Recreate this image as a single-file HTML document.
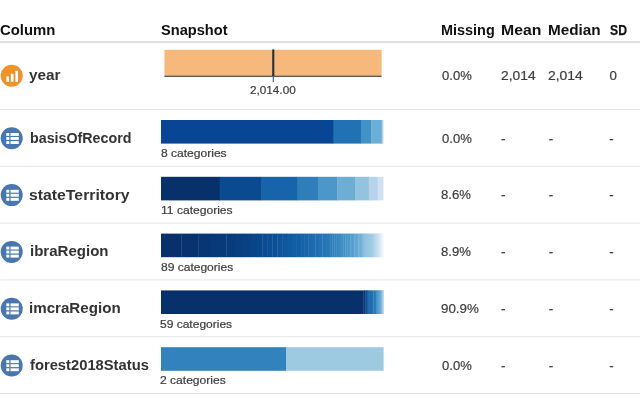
<!DOCTYPE html>
<html><head><meta charset="utf-8"><title>Column summary</title>
<style>
html,body{margin:0;padding:0;background:#fff;}
body{width:640px;height:400px;overflow:hidden;position:relative;font-family:"Liberation Sans",sans-serif;color:#333;}
.t{position:absolute;white-space:nowrap;line-height:1;transform-origin:0 0;}
.h{font-weight:bold;font-size:14.8px;color:#111;}
.n{font-weight:bold;font-size:15.2px;color:#333;}
.s{font-size:13.3px;color:#3c3c3c;-webkit-text-stroke:0.2px #3c3c3c;}
.c{font-size:10.8px;color:#3c3c3c;-webkit-text-stroke:0.2px #3c3c3c;}
.hl{position:absolute;left:0;width:640px;background:#e4e4e4;height:1px;}
svg{position:absolute;left:0;top:0;}
</style></head><body>

<svg width="640" height="400" viewBox="0 0 640 400"><rect x="0" y="41.2" width="640" height="1.6" fill="#d9d9d9"/><rect x="0" y="109.00" width="640" height="1" fill="#e5e5e5"/><rect x="0" y="165.80" width="640" height="1" fill="#e5e5e5"/><rect x="0" y="222.60" width="640" height="1" fill="#e5e5e5"/><rect x="0" y="279.40" width="640" height="1" fill="#e5e5e5"/><rect x="0" y="336.20" width="640" height="1" fill="#e5e5e5"/><rect x="0" y="393.00" width="640" height="1" fill="#e5e5e5"/><rect x="164.4" y="49.8" width="217.2" height="26" fill="#f7b87b"/><rect x="164.4" y="75.7" width="217.2" height="1.1" fill="#333"/><rect x="272.7" y="49" width="1.3" height="33.2" fill="#4f6f96"/><rect x="272.3" y="49.8" width="2" height="26.4" fill="#2b2b2b"/><rect x="161.00" y="120.00" width="172.90" height="23.6" fill="#084594"/><rect x="333.60" y="120.00" width="27.60" height="23.6" fill="#2171b5"/><rect x="360.90" y="120.00" width="10.60" height="23.6" fill="#4292c6"/><rect x="371.20" y="120.00" width="10.80" height="23.6" fill="#6baed6"/><rect x="381.70" y="120.00" width="1.20" height="23.6" fill="#9ecae1"/><rect x="382.60" y="120.00" width="0.90" height="23.6" fill="#c6dbef"/><rect x="383.20" y="120.00" width="0.60" height="23.6" fill="#deebf7"/><rect x="383.50" y="120.00" width="0.10" height="23.6" fill="#f7fbff"/><rect x="161.00" y="176.80" width="59.00" height="23.6" fill="#08306b"/><rect x="219.70" y="176.80" width="41.60" height="23.6" fill="#0a4a90"/><rect x="261.00" y="176.80" width="36.90" height="23.6" fill="#1864aa"/><rect x="297.60" y="176.80" width="20.70" height="23.6" fill="#2f7ebc"/><rect x="318.00" y="176.80" width="19.50" height="23.6" fill="#4b97c9"/><rect x="337.20" y="176.80" width="18.10" height="23.6" fill="#6daed5"/><rect x="355.00" y="176.80" width="14.10" height="23.6" fill="#93c3df"/><rect x="368.80" y="176.80" width="9.20" height="23.6" fill="#b5d4e9"/><rect x="377.70" y="176.80" width="5.60" height="23.6" fill="#cfe1f2"/><rect x="383.00" y="176.80" width="0.70" height="23.6" fill="#e3eef9"/><rect x="383.40" y="176.80" width="0.20" height="23.6" fill="#f7fbff"/><rect x="161.00" y="233.60" width="20.60" height="23.6" fill="#08306b"/><rect x="181.30" y="233.60" width="17.50" height="23.6" fill="#08336f"/><rect x="198.50" y="233.60" width="12.80" height="23.6" fill="#083674"/><rect x="211.00" y="233.60" width="15.60" height="23.6" fill="#083978"/><rect x="226.30" y="233.60" width="8.70" height="23.6" fill="#083c7d"/><rect x="234.70" y="233.60" width="8.60" height="23.6" fill="#083f81"/><rect x="243.00" y="233.60" width="8.00" height="23.6" fill="#094285"/><rect x="250.70" y="233.60" width="6.60" height="23.6" fill="#094589"/><rect x="257.00" y="233.60" width="5.80" height="23.6" fill="#0a488d"/><rect x="262.50" y="233.60" width="5.40" height="23.6" fill="#0a4b91"/><rect x="267.60" y="233.60" width="5.14" height="23.6" fill="#0b4e95"/><rect x="272.44" y="233.60" width="5.14" height="23.6" fill="#0c5198"/><rect x="277.27" y="233.60" width="5.14" height="23.6" fill="#0d549b"/><rect x="282.11" y="233.60" width="5.14" height="23.6" fill="#0f579e"/><rect x="286.94" y="233.60" width="5.14" height="23.6" fill="#105aa1"/><rect x="291.78" y="233.60" width="5.14" height="23.6" fill="#125da4"/><rect x="296.61" y="233.60" width="4.75" height="23.6" fill="#1460a7"/><rect x="301.06" y="233.60" width="3.84" height="23.6" fill="#1662a9"/><rect x="304.61" y="233.60" width="3.84" height="23.6" fill="#1865ab"/><rect x="308.15" y="233.60" width="3.84" height="23.6" fill="#1b68ae"/><rect x="311.70" y="233.60" width="3.84" height="23.6" fill="#1d6bb0"/><rect x="315.24" y="233.60" width="3.84" height="23.6" fill="#206eb2"/><rect x="318.78" y="233.60" width="3.84" height="23.6" fill="#2271b4"/><rect x="322.33" y="233.60" width="3.84" height="23.6" fill="#2574b6"/><rect x="325.87" y="233.60" width="3.16" height="23.6" fill="#2877b7"/><rect x="328.74" y="233.60" width="2.14" height="23.6" fill="#2b7ab9"/><rect x="330.58" y="233.60" width="2.14" height="23.6" fill="#2d7dbb"/><rect x="332.42" y="233.60" width="2.14" height="23.6" fill="#3080bc"/><rect x="334.26" y="233.60" width="2.14" height="23.6" fill="#3383be"/><rect x="336.11" y="233.60" width="2.14" height="23.6" fill="#3686c0"/><rect x="337.95" y="233.60" width="2.14" height="23.6" fill="#3a89c1"/><rect x="339.79" y="233.60" width="2.14" height="23.6" fill="#3d8cc3"/><rect x="341.63" y="233.60" width="2.14" height="23.6" fill="#408ec4"/><rect x="343.47" y="233.60" width="2.14" height="23.6" fill="#4391c6"/><rect x="345.32" y="233.60" width="2.14" height="23.6" fill="#4794c7"/><rect x="347.16" y="233.60" width="2.14" height="23.6" fill="#4a97c9"/><rect x="349.00" y="233.60" width="1.62" height="23.6" fill="#4e99ca"/><rect x="350.32" y="233.60" width="1.62" height="23.6" fill="#519ccc"/><rect x="351.64" y="233.60" width="1.62" height="23.6" fill="#559fcd"/><rect x="352.96" y="233.60" width="1.62" height="23.6" fill="#59a1cf"/><rect x="354.28" y="233.60" width="1.62" height="23.6" fill="#5da4d0"/><rect x="355.60" y="233.60" width="1.62" height="23.6" fill="#60a6d1"/><rect x="356.92" y="233.60" width="1.62" height="23.6" fill="#64a9d3"/><rect x="358.25" y="233.60" width="1.62" height="23.6" fill="#69abd4"/><rect x="359.57" y="233.60" width="1.62" height="23.6" fill="#6daed5"/><rect x="360.89" y="233.60" width="1.62" height="23.6" fill="#71b1d6"/><rect x="362.21" y="233.60" width="1.48" height="23.6" fill="#75b3d8"/><rect x="363.38" y="233.60" width="1.26" height="23.6" fill="#7ab6d9"/><rect x="364.35" y="233.60" width="1.26" height="23.6" fill="#7eb8da"/><rect x="365.31" y="233.60" width="1.26" height="23.6" fill="#82bbdb"/><rect x="366.27" y="233.60" width="1.26" height="23.6" fill="#87bddc"/><rect x="367.23" y="233.60" width="1.26" height="23.6" fill="#8bbfdd"/><rect x="368.19" y="233.60" width="1.26" height="23.6" fill="#8fc2de"/><rect x="369.15" y="233.60" width="1.26" height="23.6" fill="#94c4df"/><rect x="370.12" y="233.60" width="1.26" height="23.6" fill="#98c6e0"/><rect x="371.08" y="233.60" width="1.26" height="23.6" fill="#9cc8e2"/><rect x="372.04" y="233.60" width="1.26" height="23.6" fill="#a0cae3"/><rect x="373.00" y="233.60" width="0.74" height="23.6" fill="#a4cce4"/><rect x="373.44" y="233.60" width="0.74" height="23.6" fill="#a8cee5"/><rect x="373.88" y="233.60" width="0.74" height="23.6" fill="#acd0e6"/><rect x="374.32" y="233.60" width="0.74" height="23.6" fill="#b0d1e7"/><rect x="374.75" y="233.60" width="0.74" height="23.6" fill="#b3d3e9"/><rect x="375.19" y="233.60" width="0.74" height="23.6" fill="#b7d5ea"/><rect x="375.63" y="233.60" width="0.74" height="23.6" fill="#bad6eb"/><rect x="376.07" y="233.60" width="0.74" height="23.6" fill="#bdd8ec"/><rect x="376.51" y="233.60" width="0.74" height="23.6" fill="#c0d9ed"/><rect x="376.95" y="233.60" width="0.74" height="23.6" fill="#c3dbee"/><rect x="377.38" y="233.60" width="0.74" height="23.6" fill="#c6dcef"/><rect x="377.82" y="233.60" width="0.74" height="23.6" fill="#c9def0"/><rect x="378.26" y="233.60" width="0.74" height="23.6" fill="#ccdff1"/><rect x="378.70" y="233.60" width="0.56" height="23.6" fill="#cee1f2"/><rect x="378.96" y="233.60" width="0.56" height="23.6" fill="#d0e2f2"/><rect x="379.22" y="233.60" width="0.56" height="23.6" fill="#d3e4f3"/><rect x="379.47" y="233.60" width="0.56" height="23.6" fill="#d5e5f4"/><rect x="379.73" y="233.60" width="0.56" height="23.6" fill="#d7e7f5"/><rect x="379.99" y="233.60" width="0.56" height="23.6" fill="#dae8f6"/><rect x="380.25" y="233.60" width="0.56" height="23.6" fill="#dceaf6"/><rect x="380.51" y="233.60" width="0.56" height="23.6" fill="#deebf7"/><rect x="380.76" y="233.60" width="0.56" height="23.6" fill="#e0ecf8"/><rect x="381.02" y="233.60" width="0.56" height="23.6" fill="#e3eef8"/><rect x="381.28" y="233.60" width="0.56" height="23.6" fill="#e5eff9"/><rect x="381.54" y="233.60" width="0.56" height="23.6" fill="#e7f1fa"/><rect x="381.79" y="233.60" width="0.56" height="23.6" fill="#e9f2fb"/><rect x="382.05" y="233.60" width="0.56" height="23.6" fill="#ecf4fb"/><rect x="382.31" y="233.60" width="0.56" height="23.6" fill="#eef5fc"/><rect x="382.57" y="233.60" width="0.56" height="23.6" fill="#f0f7fd"/><rect x="382.83" y="233.60" width="0.56" height="23.6" fill="#f2f8fe"/><rect x="383.08" y="233.60" width="0.56" height="23.6" fill="#f5fafe"/><rect x="383.34" y="233.60" width="0.26" height="23.6" fill="#f7fbff"/><rect x="161.00" y="290.40" width="202.60" height="23.6" fill="#08306b"/><rect x="363.30" y="290.40" width="1.00" height="23.6" fill="#083572"/><rect x="364.00" y="290.40" width="1.00" height="23.6" fill="#083978"/><rect x="364.70" y="290.40" width="1.00" height="23.6" fill="#083e7f"/><rect x="365.40" y="290.40" width="1.00" height="23.6" fill="#094285"/><rect x="366.10" y="290.40" width="1.00" height="23.6" fill="#09478b"/><rect x="366.80" y="290.40" width="0.74" height="23.6" fill="#0a4b91"/><rect x="367.24" y="290.40" width="0.74" height="23.6" fill="#0c5097"/><rect x="367.69" y="290.40" width="0.74" height="23.6" fill="#0e549c"/><rect x="368.13" y="290.40" width="0.74" height="23.6" fill="#1059a0"/><rect x="368.57" y="290.40" width="0.74" height="23.6" fill="#135da4"/><rect x="369.01" y="290.40" width="0.74" height="23.6" fill="#1662a8"/><rect x="369.46" y="290.40" width="0.74" height="23.6" fill="#1966ac"/><rect x="369.90" y="290.40" width="1.34" height="23.6" fill="#1d6aaf"/><rect x="370.94" y="290.40" width="1.34" height="23.6" fill="#206fb2"/><rect x="371.98" y="290.40" width="1.59" height="23.6" fill="#2473b5"/><rect x="373.27" y="290.40" width="1.85" height="23.6" fill="#2978b8"/><rect x="374.83" y="290.40" width="1.31" height="23.6" fill="#2d7cba"/><rect x="375.83" y="290.40" width="0.76" height="23.6" fill="#3181bd"/><rect x="376.29" y="290.40" width="0.76" height="23.6" fill="#3685bf"/><rect x="376.75" y="290.40" width="0.76" height="23.6" fill="#3b8ac2"/><rect x="377.22" y="290.40" width="0.76" height="23.6" fill="#408ec4"/><rect x="377.68" y="290.40" width="0.76" height="23.6" fill="#4592c6"/><rect x="378.14" y="290.40" width="0.76" height="23.6" fill="#4a96c9"/><rect x="378.60" y="290.40" width="0.82" height="23.6" fill="#4f9acb"/><rect x="379.12" y="290.40" width="0.82" height="23.6" fill="#559ecd"/><rect x="379.64" y="290.40" width="0.82" height="23.6" fill="#5aa2cf"/><rect x="380.16" y="290.40" width="0.82" height="23.6" fill="#60a6d1"/><rect x="380.68" y="290.40" width="0.82" height="23.6" fill="#66aad3"/><rect x="381.20" y="290.40" width="0.47" height="23.6" fill="#6daed5"/><rect x="381.37" y="290.40" width="0.47" height="23.6" fill="#73b2d7"/><rect x="381.54" y="290.40" width="0.47" height="23.6" fill="#7ab6d9"/><rect x="381.71" y="290.40" width="0.47" height="23.6" fill="#80b9da"/><rect x="381.89" y="290.40" width="0.47" height="23.6" fill="#87bddc"/><rect x="382.06" y="290.40" width="0.47" height="23.6" fill="#8ec1de"/><rect x="382.23" y="290.40" width="0.47" height="23.6" fill="#94c4df"/><rect x="382.40" y="290.40" width="0.47" height="23.6" fill="#9bc7e1"/><rect x="382.57" y="290.40" width="0.47" height="23.6" fill="#a1cae3"/><rect x="382.74" y="290.40" width="0.47" height="23.6" fill="#a7cde5"/><rect x="382.91" y="290.40" width="0.47" height="23.6" fill="#add0e6"/><rect x="383.09" y="290.40" width="0.47" height="23.6" fill="#b2d3e8"/><rect x="383.26" y="290.40" width="0.47" height="23.6" fill="#b7d5ea"/><rect x="383.43" y="290.40" width="0.17" height="23.6" fill="#bcd7ec"/><rect x="161.00" y="347.20" width="125.30" height="23.6" fill="#3182bd"/><rect x="286.00" y="347.20" width="97.60" height="23.6" fill="#9ecae1"/><circle cx="11.7" cy="75.80" r="11" fill="#f0922b"/><rect x="6.4" y="76.30" width="2.6" height="5.50" fill="#fff"/><rect x="10.9" y="73.70" width="2.6" height="8.10" fill="#fff"/><rect x="15.4" y="70.70" width="2.6" height="11.10" fill="#fff"/><circle cx="11.7" cy="138.30" r="11" fill="#4876ae"/><rect x="6.3" y="133.00" width="3" height="2.9" fill="#fff"/><rect x="10.5" y="133.00" width="8.3" height="2.9" fill="#fff"/><rect x="6.3" y="137.00" width="3" height="2.9" fill="#fff"/><rect x="10.5" y="137.00" width="8.3" height="2.9" fill="#fff"/><rect x="6.3" y="141.10" width="3" height="2.9" fill="#fff"/><rect x="10.5" y="141.10" width="8.3" height="2.9" fill="#fff"/><circle cx="11.7" cy="195.10" r="11" fill="#4876ae"/><rect x="6.3" y="189.80" width="3" height="2.9" fill="#fff"/><rect x="10.5" y="189.80" width="8.3" height="2.9" fill="#fff"/><rect x="6.3" y="193.80" width="3" height="2.9" fill="#fff"/><rect x="10.5" y="193.80" width="8.3" height="2.9" fill="#fff"/><rect x="6.3" y="197.90" width="3" height="2.9" fill="#fff"/><rect x="10.5" y="197.90" width="8.3" height="2.9" fill="#fff"/><circle cx="11.7" cy="251.90" r="11" fill="#4876ae"/><rect x="6.3" y="246.60" width="3" height="2.9" fill="#fff"/><rect x="10.5" y="246.60" width="8.3" height="2.9" fill="#fff"/><rect x="6.3" y="250.60" width="3" height="2.9" fill="#fff"/><rect x="10.5" y="250.60" width="8.3" height="2.9" fill="#fff"/><rect x="6.3" y="254.70" width="3" height="2.9" fill="#fff"/><rect x="10.5" y="254.70" width="8.3" height="2.9" fill="#fff"/><circle cx="11.7" cy="308.70" r="11" fill="#4876ae"/><rect x="6.3" y="303.40" width="3" height="2.9" fill="#fff"/><rect x="10.5" y="303.40" width="8.3" height="2.9" fill="#fff"/><rect x="6.3" y="307.40" width="3" height="2.9" fill="#fff"/><rect x="10.5" y="307.40" width="8.3" height="2.9" fill="#fff"/><rect x="6.3" y="311.50" width="3" height="2.9" fill="#fff"/><rect x="10.5" y="311.50" width="8.3" height="2.9" fill="#fff"/><circle cx="11.7" cy="365.50" r="11" fill="#4876ae"/><rect x="6.3" y="360.20" width="3" height="2.9" fill="#fff"/><rect x="10.5" y="360.20" width="8.3" height="2.9" fill="#fff"/><rect x="6.3" y="364.20" width="3" height="2.9" fill="#fff"/><rect x="10.5" y="364.20" width="8.3" height="2.9" fill="#fff"/><rect x="6.3" y="368.30" width="3" height="2.9" fill="#fff"/><rect x="10.5" y="368.30" width="8.3" height="2.9" fill="#fff"/></svg>
<div class="t h" style="left:-0.17px;top:22.8px;transform:scaleX(1.006)">Column</div>
<div class="t h" style="left:160.58px;top:22.8px;transform:scaleX(0.987)">Snapshot</div>
<div class="t h" style="left:440.78px;top:22.8px;transform:scaleX(0.975)">Missing</div>
<div class="t h" style="left:500.89px;top:22.8px;transform:scaleX(1.066)">Mean</div>
<div class="t h" style="left:548.31px;top:22.8px;transform:scaleX(1.034)">Median</div>
<div class="t h" style="left:609.71px;top:22.8px;transform:scaleX(0.824);-webkit-text-stroke:0.25px #111">SD</div>
<div class="t n" style="left:29.30px;top:67.3px;transform:scaleX(1.007)">year</div>
<div class="t s" style="left:441.79px;top:69.0px;transform:scaleX(0.981)">0.0%</div>
<div class="t s" style="left:501.14px;top:69.0px;transform:scaleX(1.042)">2,014</div>
<div class="t s" style="left:547.94px;top:69.0px;transform:scaleX(1.048)">2,014</div>
<div class="t s" style="left:609.43px;top:69.0px">0</div>
<div class="t c" style="left:250.00px;top:85.0px;transform:scaleX(1.087)">2,014.00</div>
<div class="t n" style="left:29.98px;top:129.8px;transform:scaleX(0.939)">basisOfRecord</div>
<div class="t s" style="left:441.79px;top:131.5px;transform:scaleX(0.981)">0.0%</div>
<div class="t s" style="left:501.02px;top:131.5px">-</div>
<div class="t s" style="left:548.64px;top:131.5px">-</div>
<div class="t s" style="left:609.26px;top:131.5px">-</div>
<div class="t c" style="left:160.55px;top:148.2px;transform:scaleX(1.116)">8 categories</div>
<div class="t n" style="left:29.17px;top:186.6px;transform:scaleX(1.040)">stateTerritory</div>
<div class="t s" style="left:441.48px;top:188.3px;transform:scaleX(0.987)">8.6%</div>
<div class="t s" style="left:501.02px;top:188.3px">-</div>
<div class="t s" style="left:548.64px;top:188.3px">-</div>
<div class="t s" style="left:609.26px;top:188.3px">-</div>
<div class="t c" style="left:160.99px;top:205.0px;transform:scaleX(1.118)">11 categories</div>
<div class="t n" style="left:29.88px;top:243.4px;transform:scaleX(0.990)">ibraRegion</div>
<div class="t s" style="left:441.48px;top:245.1px;transform:scaleX(0.987)">8.9%</div>
<div class="t s" style="left:501.02px;top:245.1px">-</div>
<div class="t s" style="left:548.64px;top:245.1px">-</div>
<div class="t s" style="left:609.26px;top:245.1px">-</div>
<div class="t c" style="left:160.56px;top:261.8px;transform:scaleX(1.113)">89 categories</div>
<div class="t n" style="left:29.34px;top:300.2px;transform:scaleX(0.996)">imcraRegion</div>
<div class="t s" style="left:441.46px;top:301.9px;transform:scaleX(1.005)">90.9%</div>
<div class="t s" style="left:501.02px;top:301.9px">-</div>
<div class="t s" style="left:548.64px;top:301.9px">-</div>
<div class="t s" style="left:609.26px;top:301.9px">-</div>
<div class="t c" style="left:160.40px;top:318.6px;transform:scaleX(1.112)">59 categories</div>
<div class="t n" style="left:30.04px;top:357.0px;transform:scaleX(0.971)">forest2018Status</div>
<div class="t s" style="left:441.79px;top:358.7px;transform:scaleX(0.981)">0.0%</div>
<div class="t s" style="left:501.02px;top:358.7px">-</div>
<div class="t s" style="left:548.64px;top:358.7px">-</div>
<div class="t s" style="left:609.26px;top:358.7px">-</div>
<div class="t c" style="left:160.40px;top:375.4px;transform:scaleX(1.117)">2 categories</div>
</body></html>
